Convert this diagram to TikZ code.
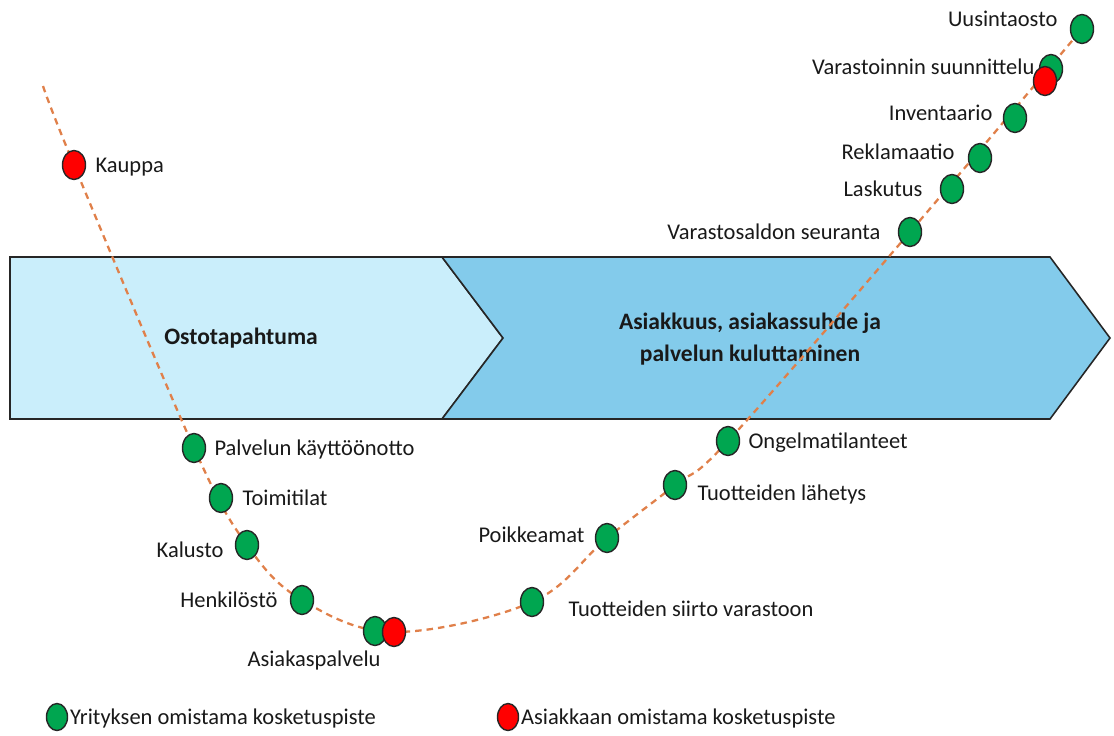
\documentclass[tikz,border=0pt]{standalone}
\usepackage{fontspec}
\setmainfont{Carlito}
\usetikzlibrary{positioning}
\usetikzlibrary{shapes.geometric}
\usetikzlibrary{backgrounds}
\definecolor{lightblue}{RGB}{202,238,251}
\definecolor{midblue}{RGB}{131,203,235}
\definecolor{dotgreen}{RGB}{0,166,80}
\definecolor{dotred}{RGB}{255,0,0}
\definecolor{pathorange}{RGB}{224,128,74}

\begin{document}
\begin{tikzpicture}[x=0.02cm, y=-0.02cm,
    own/.style={draw=black!85, line width=0.8pt, ellipse, fill=dotgreen, minimum width=0.46cm, minimum height=0.58cm, inner sep=0pt},
    cust/.style={own, fill=dotred},
    lbl/.style={inner sep=0pt, text=black!90, font=\fontsize{12.8}{15}\selectfont, text height=8.8pt, text depth=0pt},
    phase/.style={draw=black!85, line width=0.9pt},
    phasetext/.style={text=black!90, font=\fontsize{13.4}{18}\selectfont\bfseries, align=center}]
    \useasboundingbox (0,0) rectangle (1114,735);
    % Phases
    \begin{scope}[on background layer]
        \draw[phase, fill=lightblue] (10,257) -- (442,257) -- (503,338) -- (442,419) -- (10,419) -- cycle;
        \draw[phase, fill=midblue] (442,257) -- (1050,257) -- (1110,338) -- (1050,419) -- (442,419) -- (503,338) -- cycle;
        \node[phasetext] (osto) at (241,338) {Ostotapahtuma};
        \node[phasetext] (asiakkuus) at (750,339) {Asiakkuus, asiakassuhde ja\\palvelun kuluttaminen};
    \end{scope}
    % Touchpoints
    \node[cust] (kauppa) at (74,165) {};
    \node[own] (kayttoonotto) at (194,448) {};
    \node[own] (toimitilat) at (221,498) {};
    \node[own] (kalusto) at (247,545) {};
    \node[own] (henkilosto) at (302,600) {};
    \node[own] (palvelu) at (375,631) {};
    \node[cust] (palvelured) at (394,632) {};
    \node[own] (siirto) at (532,602) {};
    \node[own] (poikkeamat) at (607,538) {};
    \node[own] (lahetys) at (675,485) {};
    \node[own] (ongelma) at (728,441) {};
    \node[own] (saldo) at (910,232) {};
    \node[own] (laskutus) at (952,189) {};
    \node[own] (reklamaatio) at (980,158) {};
    \node[own] (inventaario) at (1015,118) {};
    \node[own] (suunnittelu) at (1051,69) {};
    \node[cust] (suunnittelured) at (1045,81) {};
    \node[own] (uusinta) at (1082,29) {};
    \coordinate (start) at (43,86);
    % Labels
    \node[lbl, right=0.18cm of kauppa] (kauppatxt) {Kauppa};
    \node[lbl, right=0.16cm of kayttoonotto] (kayttoonottotxt) {Palvelun käyttöönotto};
    \node[lbl, right=0.18cm of toimitilat] (toimitilattxt) {Toimitilat};
    \node[lbl, left=0.22cm of kalusto, yshift=-0.1cm] (kalustotxt) {Kalusto};
    \node[lbl, left=0.24cm of henkilosto] (henkilostotxt) {Henkilöstö};
    \node[lbl, below=0.09cm of palvelu, xshift=-1.22cm] (palvelutxt) {Asiakaspalvelu};
    \node[lbl, right=0.48cm of siirto, yshift=-0.14cm] (siirtotxt) {Tuotteiden siirto varastoon};
    \node[lbl, left=0.2cm of poikkeamat, yshift=0.06cm] (poikkeamattxt) {Poikkeamat};
    \node[lbl, right=0.2cm of lahetys, yshift=-0.16cm] (lahetystxt) {Tuotteiden lähetys};
    \node[lbl, right=0.16cm of ongelma] (ongelmatxt) {Ongelmatilanteet};
    \node[lbl, left=0.34cm of saldo] (saldotxt) {Varastosaldon seuranta};
    \node[lbl, left=0.34cm of laskutus] (laskutustxt) {Laskutus};
    \node[lbl, left=0.26cm of reklamaatio, yshift=0.12cm] (reklamaatiotxt) {Reklamaatio};
    \node[lbl, left=0.2cm of inventaario, yshift=0.1cm] (inventaariotxt) {Inventaario};
    \node[lbl, left=0.08cm of suunnittelu, yshift=0.04cm] (suunnittelutxt) {Varastoinnin suunnittelu};
    \node[lbl, left=0.24cm of uusinta, yshift=0.2cm] (uusintatxt) {Uusintaosto};
    % Legend
    \node[own, minimum width=0.42cm, minimum height=0.54cm] (legown) at (57,717) {};
    \node[lbl, right=0.03cm of legown] (legowntxt) {Yrityksen omistama kosketuspiste};
    \node[cust, minimum width=0.42cm, minimum height=0.54cm] (legcust) at (508,717) {};
    \node[lbl, right=0.03cm of legcust] (legcusttxt) {Asiakkaan omistama kosketuspiste};
    % Journey
    \begin{scope}[on background layer]
        \draw[pathorange, line width=1.3pt, dash pattern=on 0.13cm off 0.1cm]
            plot[smooth, tension=0.6] coordinates {(start) (kauppa.center) (kayttoonotto.center) (kalusto.center) (henkilosto.center) (palvelured.center) (siirto.center) (poikkeamat.center) (lahetys.center) (ongelma.center) (saldo.center) (uusinta.center)};
    \end{scope}
\end{tikzpicture}
\end{document}
